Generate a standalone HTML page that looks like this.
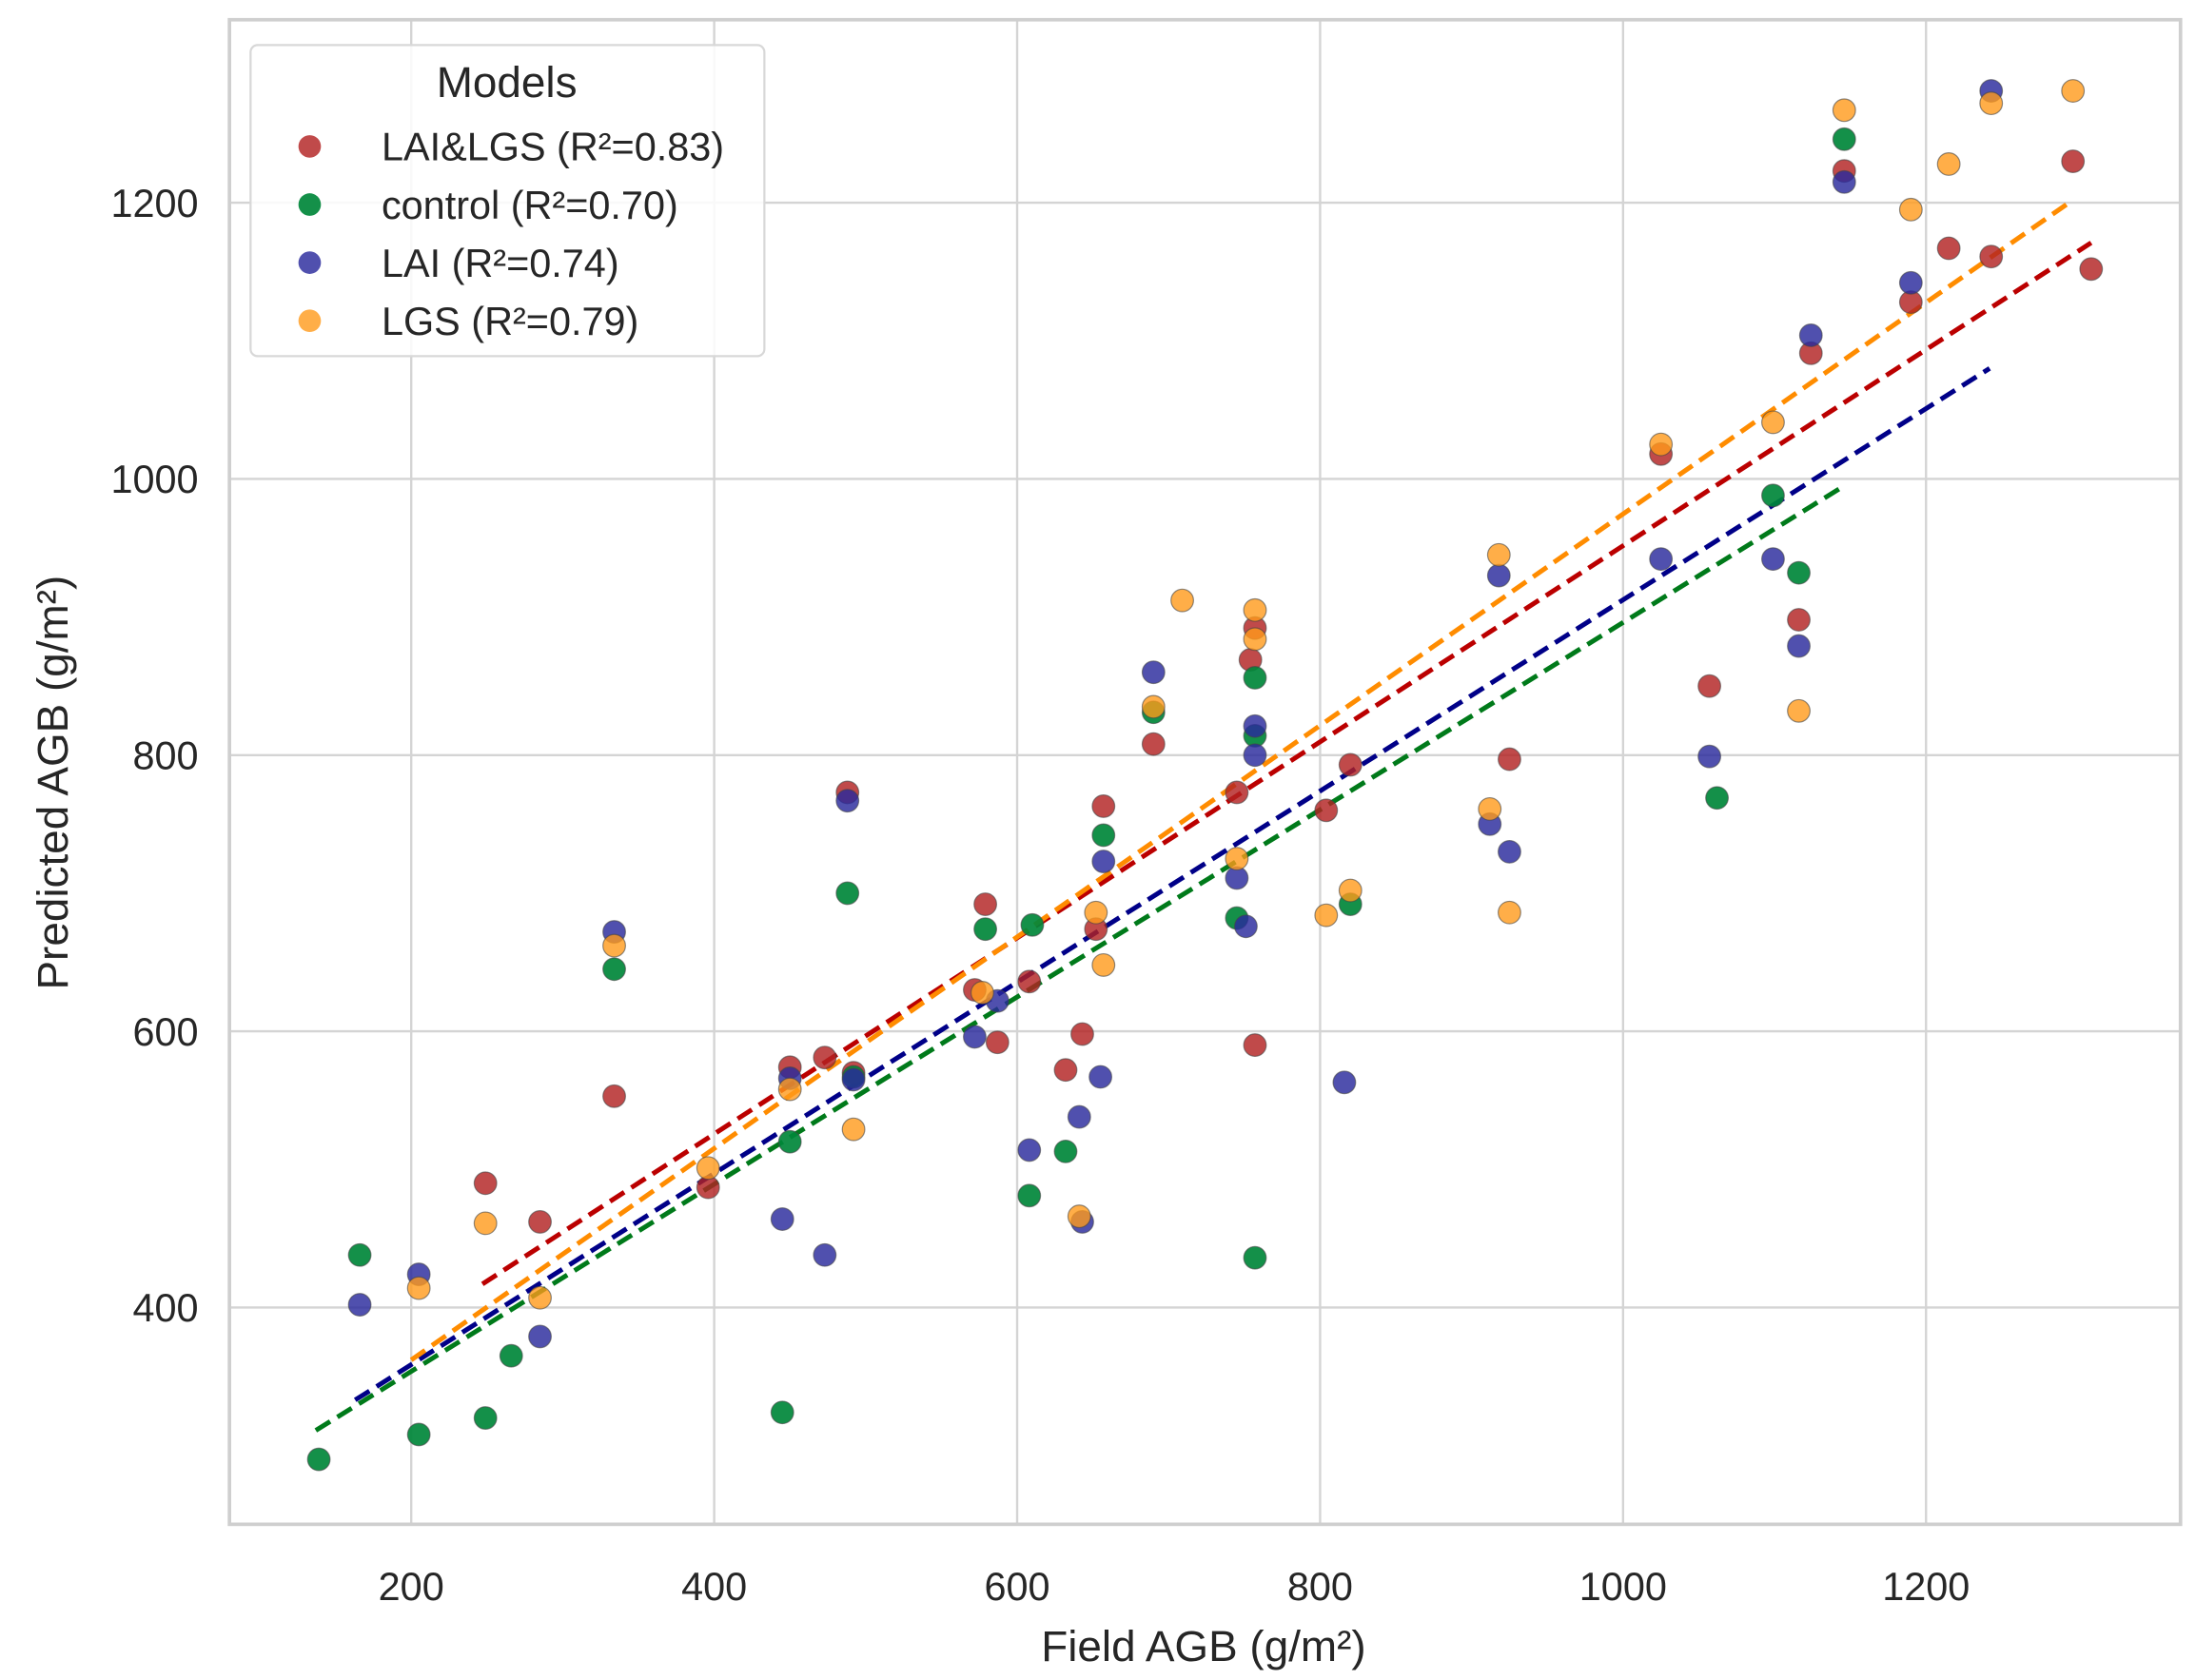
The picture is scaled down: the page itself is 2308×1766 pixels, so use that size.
<!DOCTYPE html>
<html><head><meta charset="utf-8"><style>
html,body{margin:0;padding:0;background:#fff}
svg{display:block;font-family:"Liberation Sans",Arial,sans-serif}
</style></head><body>
<svg id="chart" width="2308" height="1766" viewBox="0 0 1560 1193.6" xmlns="http://www.w3.org/2000/svg">
<g id="grid"></g>
<g id="fits"></g>
<g id="points"></g>
<rect x="163" y="14" width="1386" height="1069" fill="none" stroke="#cfcfcf" stroke-width="2.5"/>
<g id="xticks"></g>
<g id="yticks"></g>
<text x="855" y="1180" text-anchor="middle" font-size="31" fill="#262626">Field AGB (g/m²)</text>
<text transform="translate(48,556) rotate(-90)" text-anchor="middle" font-size="31" fill="#262626">Predicted AGB (g/m²)</text>
<g>
<rect x="178" y="32" width="365" height="221" rx="5" fill="#fff" fill-opacity="0.85" stroke="#d8d8d8" stroke-width="1.5"/>
<text x="360" y="69" text-anchor="middle" font-size="31" fill="#262626">Models</text>
<g id="legend-entries"></g>
</g>
</svg>
<script>
const xTicks=[200,400,600,800,1000,1200];
const yTicks=[400,600,800,1000,1200];
const seriesNames=["LAI&LGS (R²=0.83)","control (R²=0.70)","LAI (R²=0.74)","LGS (R²=0.79)"];
const redX=[249,285,334,396,450,473,488,492,572,579,587,608,632,643,652,657,690,745,754,757,757,804,820,925,1025,1057,1116,1124,1146,1190,1215,1243,1297,1309];
const redY=[490,462,553,487,574,581,773,570,630,692,592,636,572,598,674,763,808,773,869,892,590,760,793,797,1018,850,898,1091,1223,1128,1167,1161,1230,1152];
const greenX=[139,166,205,249,266,334,445,450,488,492,579,608,610,632,657,690,745,757,757,757,820,1062,1099,1116,1146];
const greenY=[290,438,308,320,365,645,324,520,700,567,674,481,677,513,742,831,682,856,814,436,692,769,988,932,1246];
const blueX=[166,205,285,334,445,450,473,488,492,572,587,608,641,643,655,657,690,745,751,757,757,816,912,918,925,1025,1057,1099,1116,1124,1146,1190,1243];
const blueY=[402,424,379,672,464,566,438,767,565,596,622,514,538,462,567,723,860,711,676,821,800,563,750,930,730,942,799,942,879,1104,1215,1142,1281];
const orangeX=[205,249,285,334,396,450,492,577,641,652,657,690,709,745,757,757,804,820,912,918,925,1025,1099,1116,1146,1190,1215,1243,1297];
const orangeY=[414,461,407,662,501,558,529,628,466,686,648,835,912,725,905,884,684,702,761,945,686,1025,1041,832,1267,1195,1228,1272,1281];
const fitX0=[247,137,163,200];
const fitY0=[417,311,333,362];
const fitX1=[1309,1146,1242,1297];
const fitY1=[1171,995,1080,1202];

const NS="http://www.w3.org/2000/svg";
const X0=163,X1=1549,Y0=1083,Y1=14;
const xmin=80,xmax=1368,ymin=243,ymax=1332.5;
function sx(v){return X0+(v-xmin)/(xmax-xmin)*(X1-X0);}
function sy(v){return Y0-(v-ymin)/(ymax-ymin)*(Y0-Y1);}
function mk(tag,attrs,parent){const e=document.createElementNS(NS,tag);for(const k in attrs)e.setAttribute(k,attrs[k]);parent.appendChild(e);return e;}
const grid=document.getElementById('grid');
xTicks.forEach(t=>{const l=mk('line',{x1:sx(t),x2:sx(t),y1:Y1,y2:Y0,stroke:'#d4d4d4','stroke-width':1.6},grid);


const tx=mk('text',{x:sx(t),y:1137,'text-anchor':'middle','font-size':28,fill:'#262626'},document.getElementById('xticks'));tx.textContent=t;

});
yTicks.forEach(t=>{const l=mk('line',{x1:X0,x2:X1,y1:sy(t),y2:sy(t),stroke:'#d4d4d4','stroke-width':1.6},grid);


const tx=mk('text',{x:141,y:sy(t)+10,'text-anchor':'end','font-size':28,fill:'#262626'},document.getElementById('yticks'));tx.textContent=t;

});
const fills=['#b22222','#00873a','#2a2a9c','#ff9a1a'];
const ops=[0.82,0.92,0.82,0.8];
const lineCols=['#bb0000','#007a1a','#000088','#ff8c00'];
const keys=['lai-lgs','control','lai','lgs'];
const sets=[[redX,redY],[greenX,greenY],[blueX,blueY],[orangeX,orangeY]];
const pts=document.getElementById('points');
sets.forEach((s,i)=>{s[0].forEach((xv,j)=>{const c=mk('circle',{cx:sx(xv),cy:sy(s[1][j]),r:8,fill:fills[i],'fill-opacity':ops[i],stroke:'#444','stroke-opacity':0.6,'stroke-width':0.8},pts);

});});
const fits=document.getElementById('fits');
[1,2,0,3].forEach(i=>{const l=mk('line',{x1:sx(fitX0[i]),y1:sy(fitY0[i]),x2:sx(fitX1[i]),y2:sy(fitY1[i]),stroke:lineCols[i],'stroke-width':3.4,'stroke-dasharray':'12 6'},fits);

});
const leg=document.getElementById('legend-entries');
seriesNames.forEach((n,i)=>{const y=104+i*41.3;
const c=mk('circle',{cx:220,cy:y,r:8,fill:fills[i],'fill-opacity':ops[i]},leg);


const t=mk('text',{x:271,y:y+10,'font-size':28,fill:'#262626'},leg);t.textContent=n;

});
</script>
</body></html>
